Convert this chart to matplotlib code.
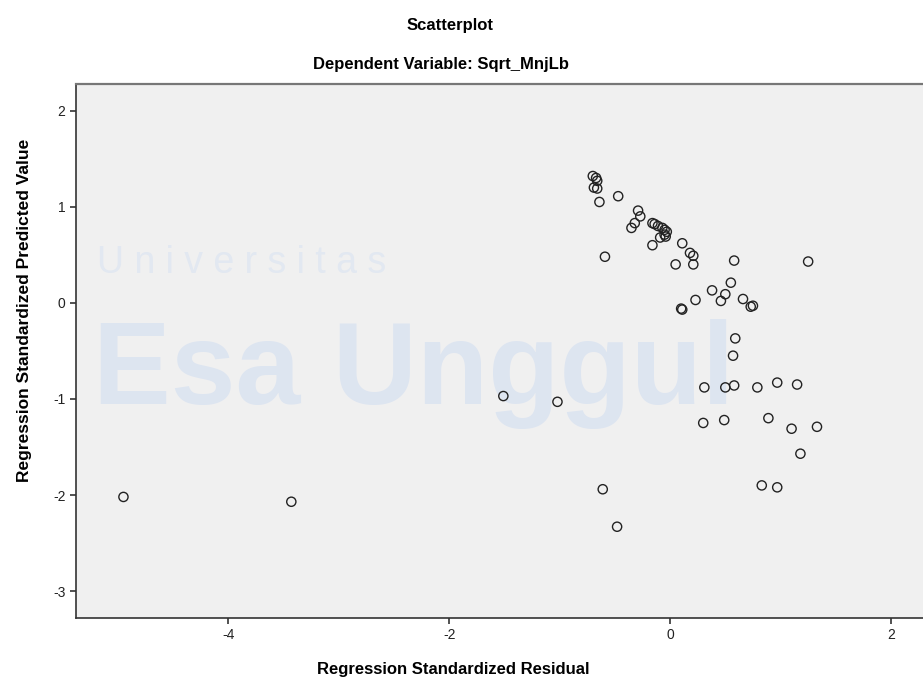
import numpy as np
import matplotlib.pyplot as plt

# Regression standardized residual (x) vs standardized predicted value (y)
resid = [-4.95, -3.43, -1.51, -1.02, -0.61, -0.48, -0.59,
         -0.70, -0.67, -0.66, -0.69, -0.66, -0.64, -0.47,
         -0.29, -0.27, -0.32, -0.35,
         -0.16, -0.14, -0.11, -0.07, -0.05, -0.03, -0.05, -0.04, -0.09, -0.16,
         0.11, 0.18, 0.21, 0.05, 0.21, 0.58, 1.25,
         0.55, 0.38, 0.50, 0.46, 0.66, 0.73, 0.75, 0.23, 0.10, 0.11,
         0.59, 0.57,
         0.31, 0.50, 0.58, 0.79, 0.97, 1.15,
         0.30, 0.49, 0.89, 1.10, 1.33, 1.18, 0.83, 0.97]
pred = [-2.02, -2.07, -0.97, -1.03, -1.94, -2.33, 0.48,
        1.32, 1.30, 1.27, 1.20, 1.19, 1.05, 1.11,
        0.96, 0.90, 0.83, 0.78,
        0.83, 0.82, 0.80, 0.78, 0.76, 0.74, 0.71, 0.69, 0.68, 0.60,
        0.62, 0.52, 0.49, 0.40, 0.40, 0.44, 0.43,
        0.21, 0.13, 0.09, 0.02, 0.04, -0.04, -0.03, 0.03, -0.06, -0.07,
        -0.37, -0.55,
        -0.88, -0.88, -0.86, -0.88, -0.83, -0.85,
        -1.25, -1.22, -1.20, -1.31, -1.29, -1.57, -1.90, -1.92]

xticks = [-4, -2, 0, 2]
yticks = [-3, -2, -1, 0, 1, 2]

plt.rcParams['font.family'] = ['Liberation Sans', 'DejaVu Sans']
plt.rcParams['axes.unicode_minus'] = False

fig = plt.figure(figsize=(9.23, 6.84), dpi=100)
ax = fig.add_axes([0.0823, 0.0965, 0.9177, 0.781])
ax.set_facecolor('#f0f0f0')

# faint watermark
ax.text(0.025, 0.645, 'U n i v e r s i t a s', transform=ax.transAxes,
        fontsize=27, color='#e2e8f1', zorder=0)
ax.text(0.02, 0.40, 'Esa Unggul', transform=ax.transAxes, fontsize=84,
        color='#dde5f0', fontweight='bold', zorder=0)

ax.scatter(resid, pred, s=44, facecolors='none', edgecolors='#222222',
           linewidths=1.0, zorder=3)

ax.set_xlim(-5.38, 2.29)
ax.set_ylim(-3.28, 2.28)
ax.set_xticks(xticks)
ax.set_yticks(yticks)
ax.tick_params(direction='out', length=4, width=1.2, color='#333333',
               labelsize=10, labelcolor='#222222')

ax.spines['right'].set_visible(False)
ax.spines['top'].set_color('#777777')
ax.spines['top'].set_linewidth(1.6)
for s in ['left', 'bottom']:
    ax.spines[s].set_color('#333333')
    ax.spines[s].set_linewidth(1.2)

fig.text(0.4875, 0.963, 'Scatterplot', ha='center', va='center',
         fontsize=12, fontweight='bold')
fig.text(0.478, 0.906, 'Dependent Variable: Sqrt_MnjLb', ha='center',
         va='center', fontsize=12, fontweight='bold')
ax.set_xlabel('Regression Standardized Residual', fontsize=12,
              fontweight='bold')
ax.xaxis.set_label_coords(0.446, -0.082)
ax.set_ylabel('Regression Standardized Predicted Value', fontsize=12.5,
              fontweight='bold')
ax.yaxis.set_label_coords(-0.052, 0.575)

fig.savefig('out.png', dpi=100)
